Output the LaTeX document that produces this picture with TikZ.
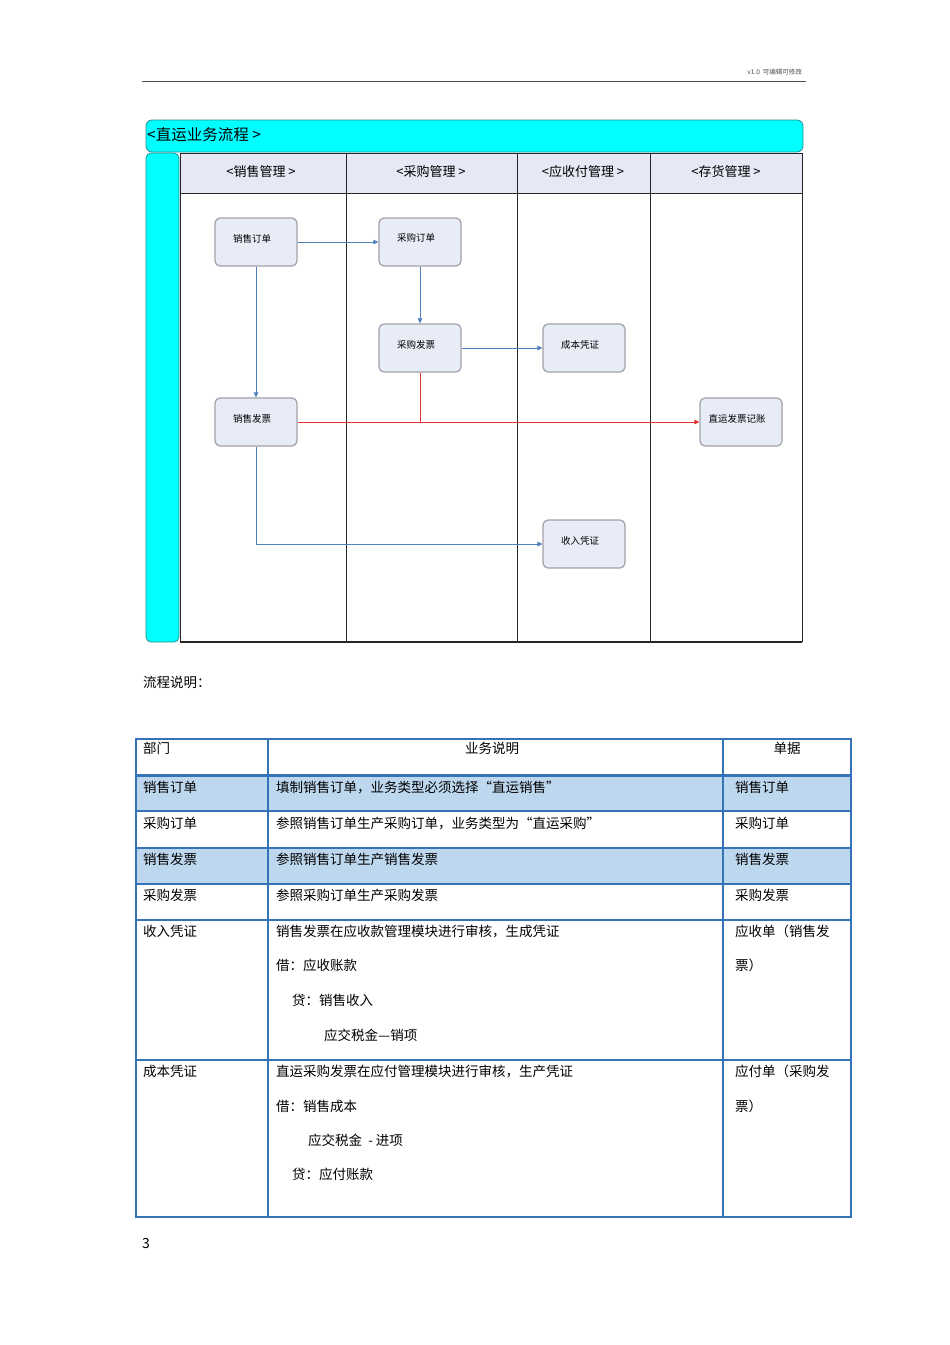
\documentclass[tikz,border=0pt]{standalone}
\usepackage{fontspec}
\setmainfont{Noto Sans CJK SC}
\usetikzlibrary{arrows.meta}
\definecolor{pcyan}{HTML}{00FFFF}
\definecolor{pteal}{HTML}{2A8C8C}
\definecolor{lanehead}{HTML}{E6E9F5}
\definecolor{procfill}{HTML}{E8ECF7}
\definecolor{procdraw}{HTML}{A0A0A8}
\definecolor{flowblue}{HTML}{4F81BD}
\definecolor{flowred}{HTML}{E03030}
\definecolor{tblue}{HTML}{3573B9}
\definecolor{rowfill}{HTML}{BDD7EE}
\tikzset{
  proc/.style={draw=procdraw, fill=procfill, rounded corners=5pt, line width=1.2pt,
    minimum width=82pt, minimum height=48pt, inner sep=0pt, text depth=8pt,
    execute at end node={\hspace*{8pt}},
    font=\fontsize{9.5}{11}\selectfont},
  barrow/.style={draw=flowblue, line width=0.9pt, -{Triangle[length=5pt,width=4.5pt]}},
  rarrow/.style={draw=flowred, line width=0.9pt, -{Triangle[length=5pt,width=4.5pt]}},
  rline/.style={draw=flowred, line width=0.9pt},
  lanetxt/.style={font=\fontsize{13}{15}\selectfont, inner sep=0pt},
  cell/.style={anchor=west, inner sep=0pt, font=\fontsize{13.5}{15}\selectfont},
  cellc/.style={inner sep=0pt, font=\fontsize{13.5}{15}\selectfont},
  lanelin/.style={draw=black!85, line width=1pt},
  tline/.style={draw=tblue, line width=1.3pt}
}
\begin{document}
\begin{tikzpicture}[x=1pt,y=-1pt]
\useasboundingbox (0,0) rectangle (950,1345);
\fill[white] (0,0) rectangle (950,1345);

% page header
\draw[black!70, line width=0.8pt] (142,81) -- (806,81);
\node[anchor=east, inner sep=0pt, font=\fontsize{6.5}{7}\selectfont, text=black!70] (hdr) at (802,72) {v1.0\ \ 可编辑可修改};

% pool
\draw[fill=pcyan, draw=pteal, line width=0.8pt, rounded corners=6pt] (146,120) rectangle (803,152);
\draw[fill=pcyan, draw=pteal, line width=0.8pt, rounded corners=5pt] (146,153) rectangle (179,642);
\node[anchor=west, inner sep=0pt, font=\fontsize{15.5}{17}\selectfont] (pooltitle) at (147,135) {<直运业务流程 >};

% lanes
\fill[white] (180,193) rectangle (802,642);
\fill[lanehead] (180,153) rectangle (802,193);
\foreach \xx in {180,346,517,650,802} { \draw[lanelin] (\xx,153) -- (\xx,642); }
\draw[lanelin] (180,153) -- (802,153);
\draw[lanelin] (180,193) -- (802,193);
\draw[draw=black!85, line width=1.4pt] (180,642) -- (802,642);
\node[lanetxt] (l1) at (261,172) {<销售管理 >};
\node[lanetxt] (l2) at (431,172) {<采购管理 >};
\node[lanetxt] (l3) at (583,172) {<应收付管理 >};
\node[lanetxt] (l4) at (726,172) {<存货管理 >};

% processes
\node[proc] (so) at (256,242) {销售订单};
\node[proc] (po) at (420,242) {采购订单};
\node[proc] (pi) at (420,348) {采购发票};
\node[proc] (cv) at (584,348) {成本凭证};
\node[proc] (si) at (256,422) {销售发票};
\node[proc] (dj) at (741,422) {直运发票记账};
\node[proc] (iv) at (584,544) {收入凭证};

% connectors
\draw[barrow] (so) -- (po);
\draw[barrow] (po) -- (pi);
\draw[barrow] (pi) -- (cv);
\draw[barrow] (so) -- (si);
\draw[rarrow] (si) -- (dj);
\draw[rline] (pi.south) -- (pi.south |- si.east);
\draw[barrow] (si.south) |- (iv.west);

% description title
\node[anchor=west, inner sep=0pt, font=\fontsize{13.5}{15}\selectfont] (desc) at (143,682) {流程说明：};

% table
\fill[rowfill] (136,775) rectangle (851,811);
\fill[rowfill] (136,848) rectangle (851,884);
\foreach \yy in {811,848,884,920,1060} { \draw[tline] (136,\yy) -- (851,\yy); }
\draw[draw=tblue, line width=3pt] (136,775) -- (851,775);
\draw[draw=tblue, line width=2pt] (268,739) -- (268,1217);
\draw[draw=tblue, line width=2pt] (723,739) -- (723,1217);
\draw[draw=tblue, line width=1.8pt] (136,739) rectangle (851,1217);

\node[cell] (h1) at (143,748) {部门};
\node[cellc] (h2) at (492,748) {业务说明};
\node[cellc] (h3) at (787,748) {单据};

\node[cell] (r1a) at (143,787) {销售订单};
\node[cell] (r1b) at (276,787) {填制销售订单，业务类型必须选择“直运销售”};
\node[cell] (r1c) at (735,787) {销售订单};

\node[cell] (r2a) at (143,823) {采购订单};
\node[cell] (r2b) at (276,823) {参照销售订单生产采购订单，业务类型为“直运采购”};
\node[cell] (r2c) at (735,823) {采购订单};

\node[cell] (r3a) at (143,859) {销售发票};
\node[cell] (r3b) at (276,859) {参照销售订单生产销售发票};
\node[cell] (r3c) at (735,859) {销售发票};

\node[cell] (r4a) at (143,895) {采购发票};
\node[cell] (r4b) at (276,895) {参照采购订单生产采购发票};
\node[cell] (r4c) at (735,895) {采购发票};

\node[cell] (r5a) at (143,931) {收入凭证};
\node[cell] (r5b1) at (276,931) {销售发票在应收款管理模块进行审核，生成凭证};
\node[cell] (r5b2) at (276,965) {借：应收账款};
\node[cell] (r5b3) at (292,1000) {贷：销售收入};
\node[cell] (r5b4) at (324,1035) {应交税金—销项};
\node[cell] (r5c1) at (735,931) {应收单（销售发};
\node[cell] (r5c2) at (735,965) {票）};

\node[cell] (r6a) at (143,1071) {成本凭证};
\node[cell] (r6b1) at (276,1071) {直运采购发票在应付管理模块进行审核，生产凭证};
\node[cell] (r6b2) at (276,1106) {借：销售成本};
\node[cell] (r6b3) at (308,1140) {应交税金 \ - 进项};
\node[cell] (r6b4) at (292,1174) {贷：应付账款};
\node[cell] (r6c1) at (735,1071) {应付单（采购发};
\node[cell] (r6c2) at (735,1106) {票）};

% page number
\node[anchor=west, inner sep=0pt, font=\fontsize{14}{16}\selectfont] (pgno) at (142,1243) {3};
\end{tikzpicture}
\end{document}
